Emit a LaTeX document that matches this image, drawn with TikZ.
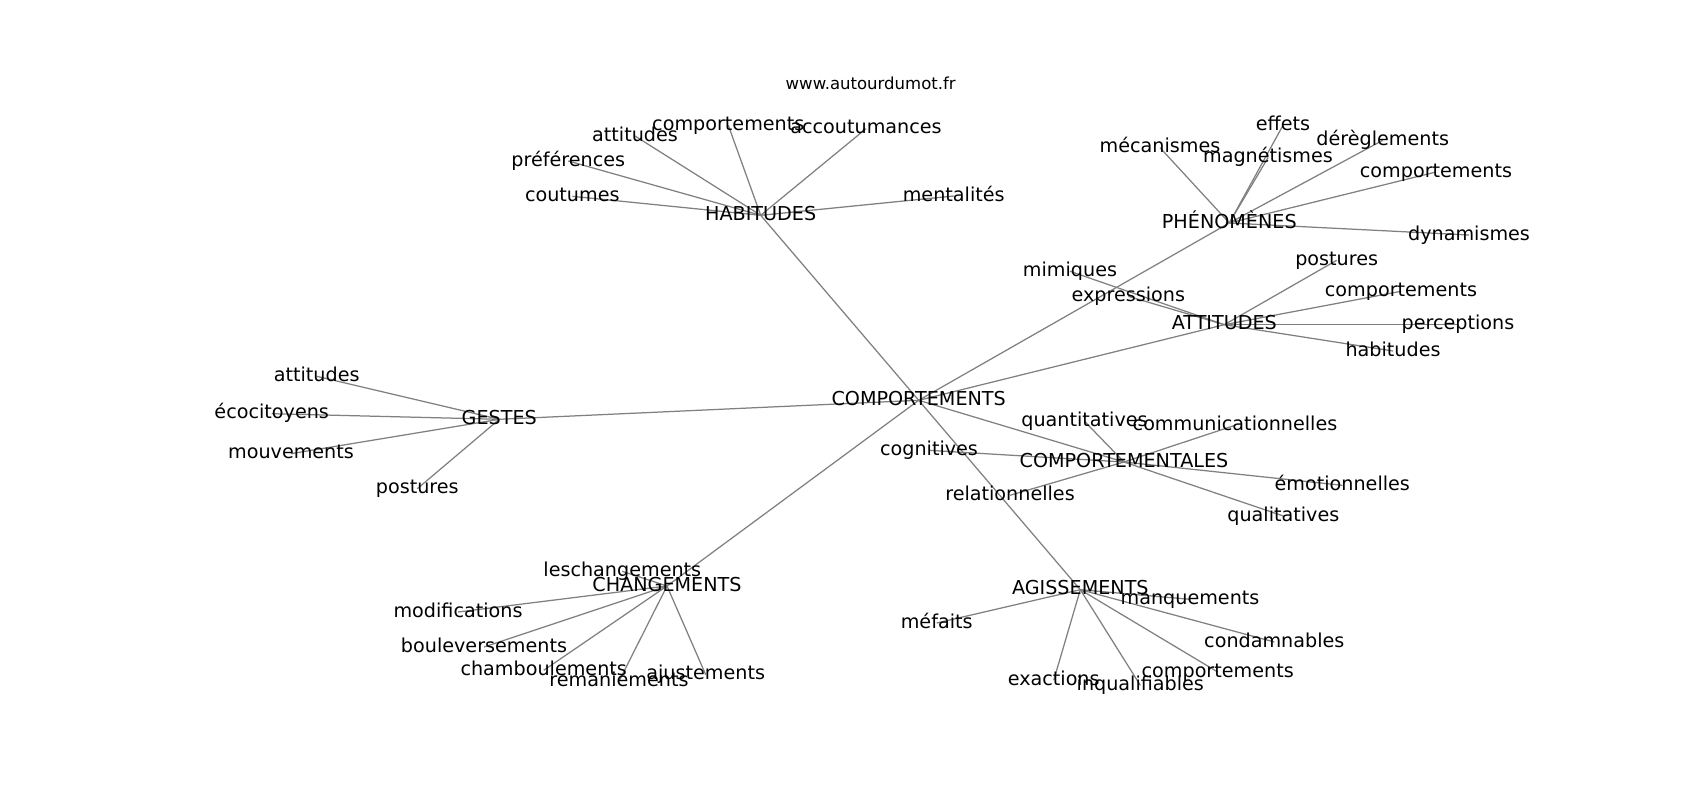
\documentclass[tikz,border=0pt]{standalone}
\usepackage{fontspec}
\setmainfont{DejaVu Sans}
\usetikzlibrary{backgrounds}

\begin{document}
\begin{tikzpicture}[x=0.72pt,y=-0.72pt,
    word/.style={inner sep=0pt,text height=0.72em,text depth=0pt,font=\fontsize{13.8}{16}\selectfont},
    link/.style={draw=gray,line width=0.9pt}]
    \useasboundingbox (0,-2) rectangle (1700,798);
    \node [word,font=\fontsize{11.9}{14}\selectfont] (site) at (870.7,82.7) {www.autourdumot.fr};

    % centre
    \node [word] (comp) at (918.7,398.3) {COMPORTEMENTS};

    % habitudes
    \node [word] (hab) at (760.7,213.3) {HABITUDES};
    \node [word] (hcou) at (572.3,194.3) {coutumes};
    \node [word] (hpref) at (568.3,159) {préférences};
    \node [word] (hatt) at (635,134) {attitudes};
    \node [word] (hcomp) at (728.3,123.3) {comportements};
    \node [word] (hacc) at (866,126.7) {accoutumances};
    \node [word] (hment) at (953.7,194) {mentalités};

    % phenomenes
    \node [word] (phen) at (1229.3,221) {PHÉNOMÈNES};
    \node [word] (pmec) at (1160,145.7) {mécanismes};
    \node [word] (pmag) at (1268,155.7) {magnétismes};
    \node [word] (peff) at (1283,123.3) {effets};
    \node [word] (pder) at (1382.7,138.3) {dérèglements};
    \node [word] (pcomp) at (1436,170) {comportements};
    \node [word] (pdyn) at (1469,233) {dynamismes};

    % attitudes
    \node [word] (att) at (1224.3,322.7) {ATTITUDES};
    \node [word] (amim) at (1070,269.3) {mimiques};
    \node [word] (aexp) at (1128.3,294.3) {expressions};
    \node [word] (apos) at (1336.7,258.3) {postures};
    \node [word] (acomp) at (1401,289.3) {comportements};
    \node [word] (aper) at (1458,322.7) {perceptions};
    \node [word] (ahab) at (1393,349) {habitudes};

    % gestes
    \node [word] (gest) at (499.3,417.3) {GESTES};
    \node [word] (gatt) at (316.7,374.3) {attitudes};
    \node [word] (geco) at (271.7,411.7) {écocitoyens};
    \node [word] (gmou) at (291,451.7) {mouvements};
    \node [word] (gpos) at (417.3,486.7) {postures};

    % comportementales
    \node [word] (cpt) at (1124,460) {COMPORTEMENTALES};
    \node [word] (cqua) at (1084.5,419.3) {quantitatives};
    \node [word] (ccom) at (1235,423.3) {communicationnelles};
    \node [word] (ccog) at (929,448.3) {cognitives};
    \node [word] (crel) at (1010,493.3) {relationnelles};
    \node [word] (cemo) at (1342.3,483.3) {émotionnelles};
    \node [word] (cqual) at (1283.3,514) {qualitatives};

    % changements
    \node [word] (chg) at (667,584) {CHANGEMENTS};
    \node [word] (kles) at (622.3,569.3) {leschangements};
    \node [word] (kmod) at (458,610) {modifications};
    \node [word] (kbou) at (484,645) {bouleversements};
    \node [word] (kcha) at (543.7,668.3) {chamboulements};
    \node [word] (krem) at (619,679.3) {remaniements};
    \node [word] (kaju) at (705.7,672.7) {ajustements};

    % agissements
    \node [word] (agi) at (1080.3,587.7) {AGISSEMENTS};
    \node [word] (gmef) at (936.7,621) {méfaits};
    \node [word] (gman) at (1190,597.3) {manquements};
    \node [word] (gcon) at (1274.3,640) {condamnables};
    \node [word] (gexa) at (1053.7,678.3) {exactions};
    \node [word] (ginq) at (1140.3,683.3) {inqualifiables};
    \node [word] (gcmp) at (1217.7,670) {comportements};

    \begin{scope}[on background layer]
        \foreach \b in {hab,phen,att,gest,cpt,chg,agi}
            \draw [link] (comp.center) -- (\b.center);
        \foreach \b in {hcou,hpref,hatt,hcomp,hacc,hment}
            \draw [link] (hab.center) -- (\b.center);
        \foreach \b in {pmec,pmag,peff,pder,pcomp,pdyn}
            \draw [link] (phen.center) -- (\b.center);
        \foreach \b in {amim,aexp,apos,acomp,aper,ahab}
            \draw [link] (att.center) -- (\b.center);
        \foreach \b in {gatt,geco,gmou,gpos}
            \draw [link] (gest.center) -- (\b.center);
        \foreach \b in {cqua,ccom,ccog,crel,cemo,cqual}
            \draw [link] (cpt.center) -- (\b.center);
        \foreach \b in {kles,kmod,kbou,kcha,krem,kaju}
            \draw [link] (chg.center) -- (\b.center);
        \foreach \b in {gmef,gman,gcon,gexa,ginq,gcmp}
            \draw [link] (agi.center) -- (\b.center);
    \end{scope}
\end{tikzpicture}
\end{document}
